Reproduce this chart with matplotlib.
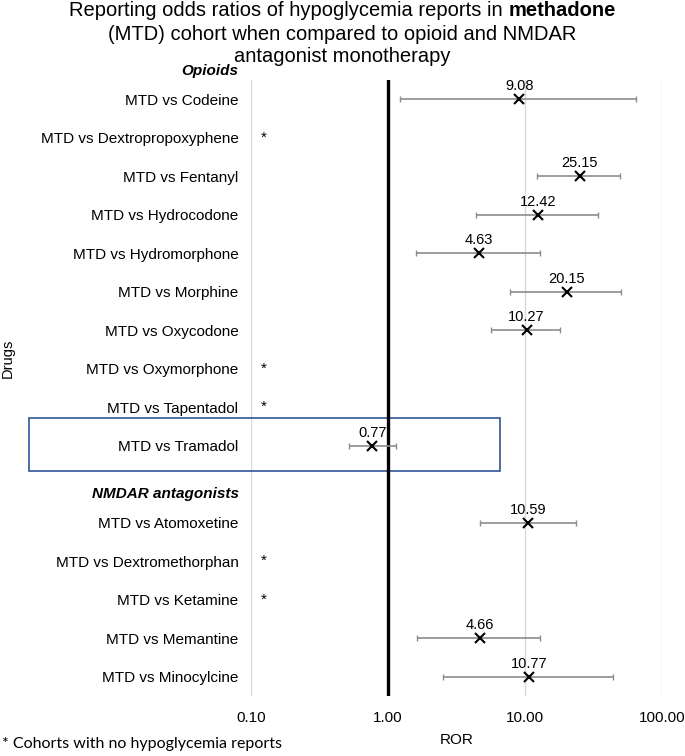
import numpy as np
import matplotlib
matplotlib.use("Agg")
import matplotlib.pyplot as plt
from matplotlib.patches import Rectangle
import matplotlib.transforms as mtransforms

# * Data

drugs = ["Codeine", "Dextropropoxyphene", "Fentanyl", "Hydrocodone",
         "Hydromorphone", "Morphine", "Oxycodone", "Oxymorphone",
         "Tapentadol", "Tramadol",
         "Atomoxetine", "Dextromethorphan", "Ketamine", "Memantine",
         "Minocylcine"]
# Group header placed before each group.
groups = ["Opioids", "NMDAR antagonists"]
group_sizes = [10, 5]

nan = np.nan
ror = [9.08, nan, 25.15, 12.42, 4.63, 20.15, 10.27, nan, nan, 0.77,
       10.59, nan, nan, 4.66, 10.77]
ci_low = [1.23, nan, 12.2, 4.37, 1.61, 7.82, 5.65, nan, nan, 0.52,
          4.67, nan, nan, 1.64, 2.52]
ci_high = [65.0, nan, 49.1, 34.1, 12.8, 50.5, 18.0, nan, nan, 1.14,
           23.4, nan, nan, 12.9, 44.2]

xticks = [0.1, 1, 10, 100]
xticklabels = ["0.10", "1.00", "10.00", "100.00"]

footnote = "* Cohorts with no hypoglycemia reports"

# * Plot

plt.rcParams['font.family'] = ['Liberation Sans', 'DejaVu Sans']

fig = plt.figure(figsize=(6.85, 7.56), dpi=100)
ax = fig.add_axes([0.3664, 0.0794, 0.6, 0.8148])

# Row positions: drugs, plus one empty row for the 2nd header.
ypos = []
labels = []
row = 0
header_rows = []
for g, (name, n) in enumerate(zip(groups, group_sizes)):
    if g > 0:
        header_rows.append(row)
        row += 1
    else:
        header_rows.append(row - 1)
    start = sum(group_sizes[:g])
    for i in range(n):
        ypos.append(row)
        labels.append("MTD vs " + drugs[start + i])
        row += 1
ypos = np.array(ypos)
ror = np.array(ror)
ci_low = np.array(ci_low)
ci_high = np.array(ci_high)

ok = ~np.isnan(ror)
ax.errorbar(ror[ok], ypos[ok],
            xerr=[ror[ok] - ci_low[ok], ci_high[ok] - ror[ok]],
            fmt='none', ecolor='#8c8c8c', elinewidth=1.2, capsize=2.5,
            capthick=1.0, zorder=3)
ax.plot(ror[ok], ypos[ok], 'x', color='black', markersize=7.5,
        markeredgewidth=1.5, zorder=4)

for x, y in zip(ror[ok], ypos[ok]):
    ax.annotate("{:.2f}".format(x), (x, y), xytext=(0, 9.5),
                textcoords='offset points', ha='center', va='center',
                fontsize=10.5)

# Asterisks for cohorts without reports.
for y in ypos[~ok]:
    ax.text(0.124, y, "*", ha='center', va='center', fontsize=11)

ax.set_xscale('log')
ax.set_xlim(0.1, 100)
ax.set_ylim(ypos[-1] + 0.5, -0.5)
ax.set_xticks(xticks)
ax.set_xticklabels(xticklabels, fontsize=11)
ax.set_yticks(ypos)
ax.set_yticklabels(labels, fontsize=11)
ax.minorticks_off()
ax.tick_params(length=0, pad=9)
ax.tick_params(axis='x', pad=10.5)
for s in ax.spines.values():
    s.set_visible(False)
ax.grid(axis='x', color='#d9d9d9', linewidth=1)
ax.set_axisbelow(True)
ax.axvline(1, color='black', linewidth=2.4, zorder=2)

# Group headers.
trans = mtransforms.blended_transform_factory(ax.transAxes, ax.transData)
trans = trans + mtransforms.ScaledTranslation(0, -10 / 100, fig.dpi_scale_trans)
for name, r in zip(groups, header_rows):
    ax.text(-0.03, r, name, transform=trans, ha='right', va='center',
            fontsize=11, fontweight='bold', fontstyle='italic')

# Highlight box round Tramadol.
tram = ypos[labels.index("MTD vs Tramadol")]
box = Rectangle((0, 0), 1, 1, fill=False,
                edgecolor='#2f5597', linewidth=1.2,
                transform=mtransforms.blended_transform_factory(fig.transFigure, ax.transData),
                clip_on=False)
box.set_bounds(29 / 685, tram - 0.72, (500 - 29) / 685, 1.38)
ax.add_patch(box)

ax.set_xlabel("ROR", fontsize=11, labelpad=6)
fig.text(8 / 685, 1 - 358 / 756, "Drugs", rotation=90, ha='center',
         va='center', fontsize=10.5)

# Title, with one bold word.
r = fig.canvas.get_renderer()
line1a = "Reporting odds ratios of hypoglycemia reports in "
line1b = "methadone"
ta = fig.text(0, 1 - 11 / 756, line1a, fontsize=14.5, va='center', ha='left')
tb = fig.text(0, 1 - 11 / 756, line1b, fontsize=14.5, va='center', ha='left',
              fontweight='bold')
wa = ta.get_window_extent(r).width
wb = tb.get_window_extent(r).width
x0 = (685 - wa - wb) / 2
ta.set_x(x0 / 685)
tb.set_x((x0 + wa) / 685)
fig.text(0.5, 1 - 34 / 756, "(MTD) cohort when compared to opioid and NMDAR",
         fontsize=14.5, ha='center', va='center')
fig.text(0.5, 1 - 56 / 756, "antagonist monotherapy",
         fontsize=14.5, ha='center', va='center')

fig.text(2 / 685, 1 - 744 / 756, footnote, fontsize=11.5, ha='left',
         va='center', family=['Lato', 'DejaVu Sans'])

plt.savefig("out.png", dpi=100)
